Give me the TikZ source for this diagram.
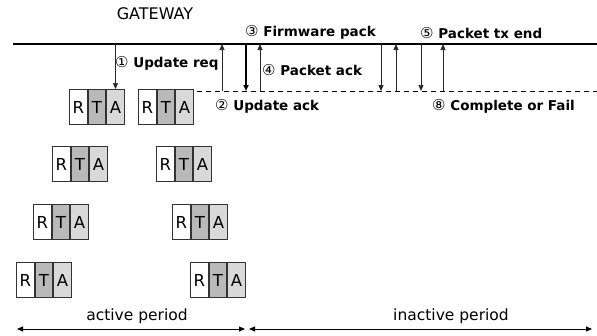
\documentclass[tikz,border=0pt]{standalone}
\usepackage{fontspec}
\setmainfont{DejaVu Sans}
\newfontfamily\circfont{DejaVu Sans}
\usetikzlibrary{arrows.meta,positioning}

% circled step numbers in the regular weight
\newcommand{\stepno}[1]{{\circfont\mdseries\fontsize{15}{16}\selectfont #1}}
% one R-T-A slot: name, x of left edge, y of middle
\newcommand{\rtabox}[3]{%
  \node[cell,fill=white,anchor=west] (#1r) at (#2,#3) {R};
  \node[cell,fill=gray!55,right=0pt of #1r] (#1t) {T};
  \node[cell,fill=gray!30,right=0pt of #1t] (#1a) {A};}

\begin{document}
\begin{tikzpicture}[x=1pt,y=-1pt,>={Triangle[length=6pt,width=5pt]},
  cell/.style={draw=black!80,line width=0.9pt,minimum width=17.7pt,minimum height=35pt,inner sep=0pt,font=\fontsize{16.5}{18}\selectfont},
  lbl/.style={anchor=west,inner sep=0pt,font=\fontsize{13.5}{16}\selectfont\bfseries},
  msg/.style={->,line width=0.6pt,black!85}]
  \useasboundingbox (0,0) rectangle (597,335);

  % gateway and node side
  \node[inner sep=0pt,font=\fontsize{16}{18}\selectfont] (gw) at (155,14) {GATEWAY};
  \coordinate (gwL) at (13,44);
  \coordinate (gwR) at (597,44);
  \coordinate (dsL) at (197,91);
  \coordinate (dsR) at (597,91);
  \draw[line width=2pt] (gwL) -- (gwR);
  \draw[line width=0.6pt,dash pattern=on 5pt off 4pt] (dsL) -- (dsR);

  % slots of the sensor nodes
  \rtabox{p}{69}{107}
  \rtabox{q}{138}{107}
  \rtabox{s}{52}{164}
  \rtabox{t}{156}{164}
  \rtabox{u}{33}{222}
  \rtabox{v}{172}{222}
  \rtabox{w}{16}{280}
  \rtabox{z}{190}{280}

  % messages
  \coordinate (req) at (pa.north |- gwL);
  \draw[msg] (req) -- (pa.north);
  \foreach \n/\x in {1/222,2/246,3/260,4/381,5/396,6/421,7/443}{
    \coordinate (top\n) at (\x,44);
    \coordinate (bot\n) at (\x,91);
  }
  \draw[msg] (bot1) -- (top1);
  \draw[msg,line width=1.6pt,black] (top2) -- (bot2);
  \draw[msg] (bot3) -- (top3);
  \draw[msg,line width=1pt] (top4) -- (bot4);
  \draw[msg] (bot5) -- (top5);
  \draw[msg] (top6) -- (bot6);
  \draw[msg] (bot7) -- (top7);

  \node[lbl] (l1) at (115,63) {\stepno{①} Update req};
  \node[lbl] (l2) at (215,106) {\stepno{②} Update ack};
  \node[lbl] (l3) at (245,32) {\stepno{③} Firmware pack};
  \node[lbl] (l4) at (262,70) {\stepno{④} Packet ack};
  \node[lbl] (l5) at (420,33) {\stepno{⑤} Packet tx end};
  \node[lbl] (l8) at (432,106) {\stepno{⑧} Complete or Fail};

  % periods
  \coordinate (actL) at (17,329);
  \coordinate (actR) at (245,329);
  \coordinate (inaL) at (249,329);
  \coordinate (inaR) at (592,329);
  \draw[<->,line width=0.8pt] (actL) -- (actR);
  \draw[<->,line width=0.8pt] (inaL) -- (inaR);
  \node[inner sep=0pt,font=\fontsize{15.5}{18}\selectfont] (act) at (137,316) {active period};
  \node[inner sep=0pt,font=\fontsize{15.5}{18}\selectfont] (ina) at (451,316) {inactive period};
\end{tikzpicture}
\end{document}
